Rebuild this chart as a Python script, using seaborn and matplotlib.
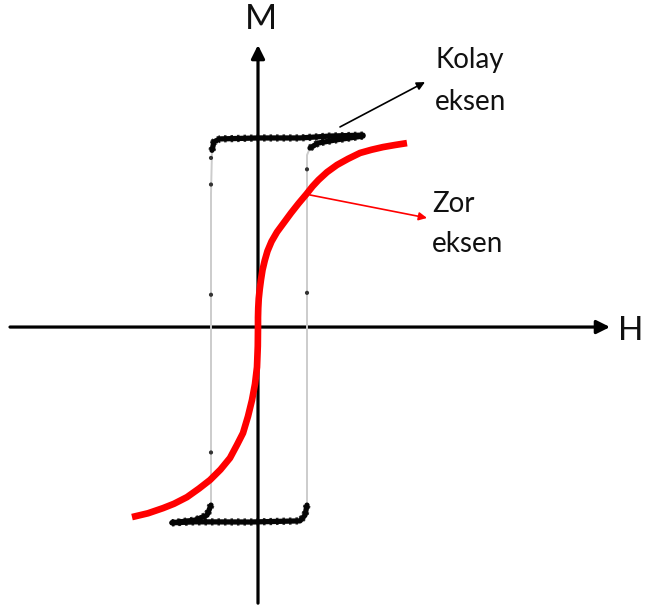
import numpy as np
import pandas as pd
import matplotlib
matplotlib.use("Agg")
import matplotlib.pyplot as plt
import seaborn as sns

# Easy axis (kolay eksen): square hysteresis loop, field H and normalised magnetisation M
desc_H = [2.10, 1.44, 0.84, 0.00, -0.76, -0.88, -0.92, -0.94, -0.94, -1.02, -1.26, -1.72]
desc_M = [1.010, 1.005, 0.995, 0.995, 0.990, 0.975, 0.930, 0.700, -0.937, -0.990, -1.016, -1.030]
asc_H = [-1.72, -1.26, -0.16, 0.84, 0.94, 0.98, 0.98, 1.04, 1.20, 1.54, 2.10]
asc_M = [-1.030, -1.025, -1.026, -1.020, -0.990, -0.937, 0.905, 0.942, 0.968, 0.984, 1.005]

# isolated measurement points on the switching branches
switch_H = [-0.94, -0.94, -0.94, -0.94, 0.98, 0.98]
switch_M = [0.89, 0.75, 0.17, -0.66, 0.83, 0.18]

# Hard axis (zor eksen): S-shaped magnetisation curve
hard_H = [-2.52, -2.20, -1.90, -1.68, -1.42, -1.18, -0.96, -0.75, -0.56, -0.42,
          -0.30, -0.20, -0.12, -0.06, -0.02, -0.004, 0.00,
          0.00, 0.005, 0.015, 0.035, 0.06, 0.09, 0.135, 0.19, 0.27, 0.38,
          0.52, 0.66, 0.81, 0.97, 1.09, 1.21, 1.38, 1.58, 1.80, 2.04,
          2.27, 2.50, 2.74, 2.98]
hard_M = [-1.000, -0.980, -0.953, -0.930, -0.895, -0.850, -0.805, -0.750, -0.689, -0.620,
          -0.558, -0.470, -0.384, -0.300, -0.211, -0.100, 0.000,
          0.050, 0.100, 0.150, 0.200, 0.250, 0.300, 0.350, 0.400, 0.450, 0.500,
          0.550, 0.600, 0.650, 0.700, 0.740, 0.774, 0.815, 0.853, 0.885, 0.916,
          0.933, 0.947, 0.958, 0.968]

SAT = 0.92  # |M| above which the loop is saturated

sns.set_style("white")
plt.rcParams["font.family"] = ["Lato", "DejaVu Sans"]

fig = plt.figure(figsize=(6.45, 6.10), dpi=100)
ax = fig.add_axes([0, 0, 1, 1])
ax.set_xlim(-5.16, 7.74)
ax.set_ylim(-1.489, 1.721)
ax.axis("off")

# coordinate axes with arrow heads
arrow_kw = dict(arrowstyle="-|>", lw=2.3, color="black", mutation_scale=20,
                shrinkA=0, shrinkB=0)
ax.annotate("", xy=(7.04, 0), xytext=(-4.96, 0), arrowprops=arrow_kw, zorder=1)
ax.annotate("", xy=(0, 1.484), xytext=(0, -1.453), arrowprops=arrow_kw, zorder=1)

# loop: thin grey switching branches
for h, m in ((desc_H, desc_M), (asc_H, asc_M)):
    df = pd.DataFrame({"H": h, "M": m})
    sns.lineplot(data=df, x="H", y="M", sort=False, estimator=None, ax=ax,
                 color="#cccccc", lw=1.4, zorder=2)

# loop: thick, noisy saturated parts
for h, m in ((desc_H, desc_M), (asc_H, asc_M)):
    df = pd.DataFrame({"H": h, "M": m})
    for part in (df[df.M >= SAT], df[df.M <= -SAT]):
        sns.lineplot(data=part, x="H", y="M", sort=False, estimator=None, ax=ax,
                     color="#050505", lw=3.8, zorder=3,
                     solid_capstyle="round", solid_joinstyle="round")
        sns.lineplot(data=part, x="H", y="M", sort=False, estimator=None, ax=ax,
                     color="#050505", lw=5.2, zorder=3, alpha=0.85,
                     linestyle=(0, (0.35, 0.55)))

sns.scatterplot(x=switch_H, y=switch_M, ax=ax, color="#333333", s=9,
                marker="o", edgecolor="none", zorder=3)

# hard axis curve
sns.lineplot(x=hard_H, y=hard_M, sort=False, estimator=None, ax=ax,
             color="#ff0000", lw=4.8, zorder=4,
             solid_joinstyle="round", solid_capstyle="butt")

# pointers and labels
ax.annotate("", xy=(3.34, 1.289), xytext=(1.64, 1.053),
            arrowprops=dict(arrowstyle="-|>", lw=1.2, color="black",
                            mutation_scale=12, shrinkA=0, shrinkB=0), zorder=5)
ax.annotate("", xy=(3.38, 0.574), xytext=(1.04, 0.695),
            arrowprops=dict(arrowstyle="-|>", lw=1.2, color="#ff0000",
                            mutation_scale=12, shrinkA=0, shrinkB=0), zorder=5)

txt = dict(fontsize=20, color="#111111", va="baseline", ha="left")
ax.text(3.54, 1.363, "Kolay", **txt)
ax.text(3.54, 1.142, "eksen", **txt)
ax.text(3.48, 0.605, "Zor", **txt)
ax.text(3.48, 0.395, "eksen", **txt)

ax.text(0.05, 1.568, "M", fontsize=25, color="#111111", va="baseline", ha="center")
ax.text(7.70, -0.068, "H", fontsize=24, color="#111111", va="baseline", ha="right")

fig.savefig("out.png", dpi=100, facecolor="white")
